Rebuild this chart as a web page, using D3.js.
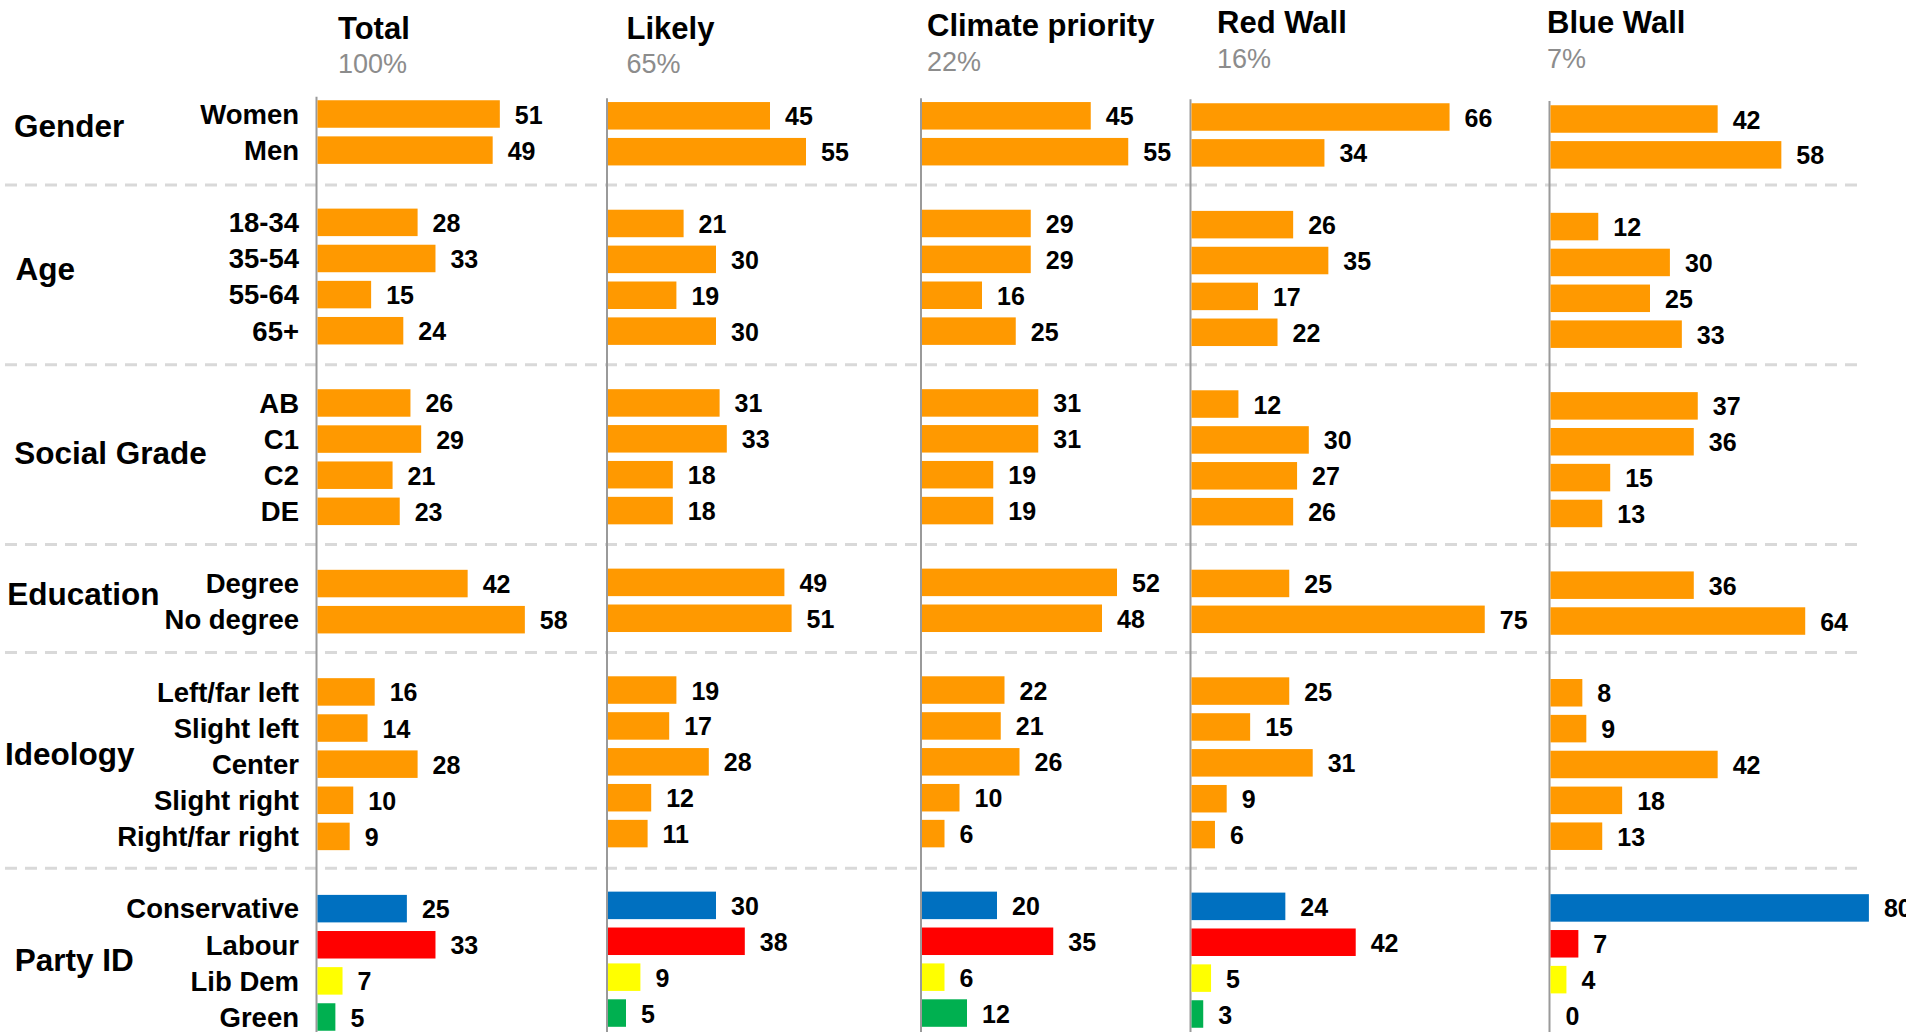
<!DOCTYPE html>
<html><head><meta charset="utf-8">
<script src="https://cdn.jsdelivr.net/npm/d3@7"></script>
<style>
body{margin:0;background:#fff}
svg{display:block}
text{font-family:"Liberation Sans",Arial,Helvetica,sans-serif}
</style>
</head><body>
<svg id="c" width="1906" height="1032"></svg>
<script>
// ---- data ----
const groups = ["Gender", "Age", "Social Grade", "Education", "Ideology", "Party ID"];
const groupItems = [
  ["Women", "Men"],
  ["18-34", "35-54", "55-64", "65+"],
  ["AB", "C1", "C2", "DE"],
  ["Degree", "No degree"],
  ["Left/far left", "Slight left", "Center", "Slight right", "Right/far right"],
  ["Conservative", "Labour", "Lib Dem", "Green"]
];
const panels = ["Total", "Likely", "Climate priority", "Red Wall", "Blue Wall"];
const panelShares = ["100%", "65%", "22%", "16%", "7%"];
const totalValues   = [51, 49, 28, 33, 15, 24, 26, 29, 21, 23, 42, 58, 16, 14, 28, 10, 9, 25, 33, 7, 5];
const likelyValues  = [45, 55, 21, 30, 19, 30, 31, 33, 18, 18, 49, 51, 19, 17, 28, 12, 11, 30, 38, 9, 5];
const climateValues = [45, 55, 29, 29, 16, 25, 31, 31, 19, 19, 52, 48, 22, 21, 26, 10, 6, 20, 35, 6, 12];
const redWallValues = [66, 34, 26, 35, 17, 22, 12, 30, 27, 26, 25, 75, 25, 15, 31, 9, 6, 24, 42, 5, 3];
const blueWallValues= [42, 58, 12, 30, 25, 33, 37, 36, 15, 13, 36, 64, 8, 9, 42, 18, 13, 80, 7, 4, 0];
const partyColors = {"Conservative": "#0070c0", "Labour": "#ff0000", "Lib Dem": "#ffff00", "Green": "#00b050"};
const barColor = "#ff9900";

// ---- layout (positions / styles) ----
const seriesValues = [totalValues, likelyValues, climateValues, redWallValues, blueWallValues];
const layout = [
  {axis: 316.5, k: 3.575, y0: 114,   pitch: 36.12, top: 96.7,  tx: 338,   ty: 39.3, sy: 73.3},
  {axis: 607,   k: 3.60,  y0: 115.8, pitch: 35.89, top: 98.3,  tx: 626.5, ty: 39,   sy: 72.7},
  {axis: 921,   k: 3.75,  y0: 115.8, pitch: 35.89, top: 98.3,  tx: 927,   ty: 36,   sy: 71},
  {axis: 1190.5,k: 3.91,  y0: 117,   pitch: 35.88, top: 99.3,  tx: 1217,  ty: 33.3, sy: 68.3},
  {axis: 1549.5,k: 3.98,  y0: 119,   pitch: 35.86, top: 101,   tx: 1547,  ty: 33.3, sy: 68.3}
];
const groupLabelLayout = [
  {x: 14, y: 136.7}, {x: 15.5, y: 280}, {x: 14.3, y: 464},
  {x: 7.3, y: 605}, {x: 5, y: 765}, {x: 14.7, y: 970.7}
];
const W = 1906, H = 1032, barH = 27.5;

const svg = d3.select("#c");
svg.append("rect").attr("width", W).attr("height", H).attr("fill", "#fff");

// rows with a blank row between groups
const rows = [];
const sepIdx = [];
let idx = 0;
groupItems.forEach((items, g) => {
  items.forEach(item => { rows.push({g, item, idx}); idx++; });
  if (g < groupItems.length - 1) sepIdx.push(idx);
  idx++;
});

// separators
const ySep = d3.scaleLinear().domain([0, 1]).range([113.1, 113.1 + 35.96]);
svg.append("g").selectAll("line").data(sepIdx).join("line")
  .attr("x1", 5).attr("x2", 1862)
  .attr("y1", d => ySep(d)).attr("y2", d => ySep(d))
  .attr("stroke", "#d9d9d9").attr("stroke-width", 3)
  .attr("stroke-dasharray", "12 8");

// category labels (aligned with Total panel rows)
const yTotal = d3.scaleLinear().domain([0, 1]).range([layout[0].y0, layout[0].y0 + layout[0].pitch]);
svg.append("g").selectAll("text").data(rows).join("text")
  .attr("x", 299).attr("y", d => yTotal(d.idx) + 9.8)
  .attr("text-anchor", "end").attr("font-size", 27.5).attr("font-weight", "bold")
  .attr("fill", "#000").text(d => d.item);

// group labels
svg.append("g").selectAll("text").data(groups).join("text")
  .attr("x", (d, i) => groupLabelLayout[i].x).attr("y", (d, i) => groupLabelLayout[i].y)
  .attr("font-size", 31.5).attr("font-weight", "bold").attr("fill", "#000").text(d => d);

// panels
panels.forEach((p, pi) => {
  const L = layout[pi];
  const x = d3.scaleLinear().domain([0, 100]).range([L.axis, L.axis + 100 * L.k]);
  const y = d3.scaleLinear().domain([0, 1]).range([L.y0, L.y0 + L.pitch]);
  const g = svg.append("g");
  const vals = seriesValues[pi];

  g.append("text").attr("x", L.tx).attr("y", L.ty)
    .attr("font-size", 31).attr("font-weight", "bold").attr("fill", "#000").text(p);
  g.append("text").attr("x", L.tx).attr("y", L.sy)
    .attr("font-size", 27).attr("fill", "#8c8c8c").text(panelShares[pi]);

  g.append("line").attr("x1", x(0)).attr("x2", x(0)).attr("y1", L.top).attr("y2", H)
    .attr("stroke", "#9a9a9a").attr("stroke-width", 2);

  g.selectAll("rect.bar").data(rows).join("rect").attr("class", "bar")
    .attr("x", x(0) + 1)
    .attr("y", d => y(d.idx) - barH / 2)
    .attr("width", d => Math.max(0, x(vals[rows.indexOf(d)]) - x(0)))
    .attr("height", barH)
    .attr("fill", d => d.g === groups.length - 1 ? partyColors[d.item] : barColor);

  g.selectAll("text.val").data(rows).join("text").attr("class", "val")
    .attr("x", d => x(vals[rows.indexOf(d)]) + 16)
    .attr("y", d => y(d.idx) + 9.5)
    .attr("font-size", 25).attr("font-weight", "bold").attr("fill", "#000")
    .text(d => vals[rows.indexOf(d)]);
});
</script>
</body></html>
